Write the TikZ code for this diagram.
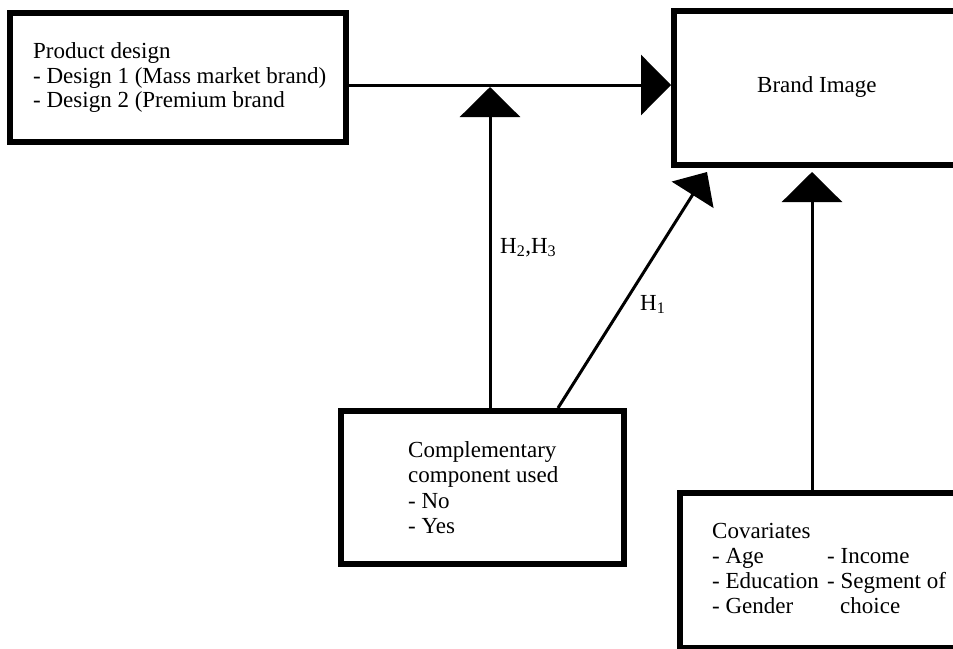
\documentclass[tikz,border=0pt]{standalone}
\usepackage{fontspec}
\setmainfont{Liberation Serif}
\usetikzlibrary{arrows.meta,calc}
\begin{document}
\begin{tikzpicture}[x=1pt,y=-1pt,
  box/.style={draw=black,line width=6pt,rectangle,inner sep=0pt,fill=white},
  conn/.style={draw=black,line width=3pt},
  bigtip/.style={-{Triangle[length=30pt,width=60pt]}},
  smalltip/.style={-{Triangle[length=27pt,width=49pt]}},
  txt/.style={anchor=base west,inner sep=0pt,font=\fontsize{23}{25}\selectfont}
]
\useasboundingbox (0,0) rectangle (953,648);
\begin{scope}
\clip (0,0) rectangle (953,648);
% boxes
\node[box,minimum width=336pt,minimum height=129pt] (design) at (178,77.5) {};
\node[box,minimum width=282pt,minimum height=154pt] (brand) at (815,88) {};
\node[box,minimum width=283pt,minimum height=153pt] (comp) at (482.5,487.5) {};
\node[box,minimum width=280pt,minimum height=155pt] (cov) at (820,570.5) {};
% connectors
\coordinate (hline) at (490,85);
\coordinate (join) at (490,87);
\draw[conn,bigtip] (design.east |- hline) -- (brand.west |- hline);
\draw[conn,bigtip] (comp.north -| join) -- (join);
\coordinate (diagstart) at ($(comp.north)+(75.5,0)$);
\coordinate (diagend) at (707,172);
\draw[conn,smalltip] (diagstart) -- (diagend);
\coordinate (covstart) at ($(cov.north)+(-8,0)$);
\draw[conn,bigtip] (covstart) -- (covstart |- {(0,172)});
\end{scope}
% texts
\node[txt] (t1) at (33,58) {Product design};
\node[txt] (t2) at (33,83) {- Design 1 (Mass market brand)};
\node[txt] (t3) at (33,107) {- Design 2 (Premium brand};
\node[txt] (tb) at (757,92) {Brand Image};
\node[txt] (c1) at (408,457) {Complementary};
\node[txt] (c2) at (408,482) {component used};
\node[txt] (c3) at (408,508) {- No};
\node[txt] (c4) at (408,533) {- Yes};
\node[txt] (v1) at (712,538) {Covariates};
\node[txt] (v2) at (712,563) {- Age};
\node[txt] (v3) at (712,588) {- Education};
\node[txt] (v4) at (712,613) {- Gender};
\node[txt] (v5) at (827,563) {- Income};
\node[txt] (v6) at (827,588) {- Segment of};
\node[txt] (v7) at (840,613) {choice};
\node[txt] (h23) at (500,253) {H\textsubscript{2},H\textsubscript{3}};
\node[txt] (h1) at (640,310) {H\textsubscript{1}};
\end{tikzpicture}
\end{document}
